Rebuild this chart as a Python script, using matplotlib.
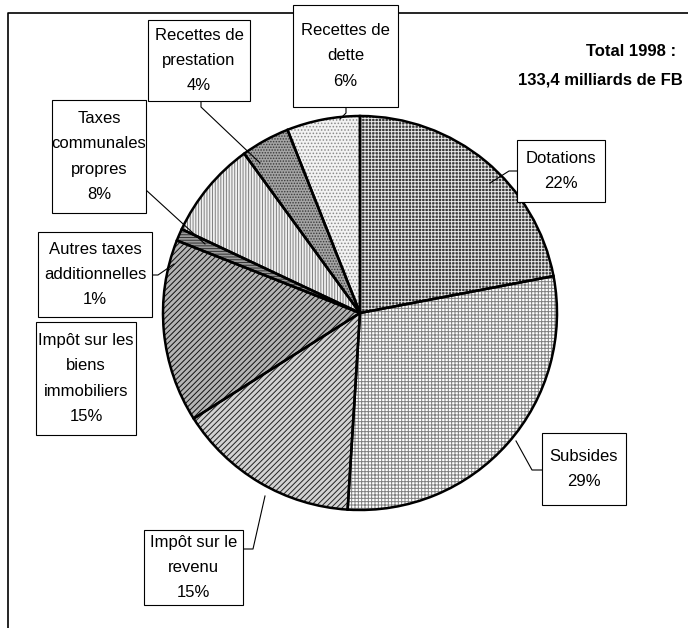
import matplotlib.pyplot as plt
from matplotlib.patches import Rectangle

plt.rcParams['font.family'] = ['Liberation Sans', 'DejaVu Sans']
plt.rcParams['hatch.linewidth'] = 0.7

labels = [
    'Dotations',
    'Subsides',
    'Impôt sur le\nrevenu',
    'Impôt sur les\nbiens\nimmobiliers',
    'Autres taxes\nadditionnelles',
    'Taxes\ncommunales\npropres',
    'Recettes de\nprestation',
    'Recettes de\ndette',
]
values = [22, 29, 15, 15, 1, 8, 4, 6]

title_lines = ['Total 1998 :', '133,4 milliards de FB']

# fill, hatch, hatch colour per slice
faces = ['#383838', 'white', '#d2d2d2', '#b4b4b4', '#9a9a9a', '#f0f0f0', '#a4a4a4', '#f2f2f2']
hatches = ['+' * 5, '+' * 5, '/' * 6, '/' * 6, '-' * 6, '|' * 6, '.' * 6, '.' * 5]
hcolors = ['#e8e8e8', '#808080', '#222222', '#111111', '#333333', '#808080', '#3a3a3a', '#8a8a8a']

# label boxes (x0, y0, x1, y1 in pixels from top-left) and leader polylines
boxes = [
    (517, 140, 605, 202),
    (542, 433, 626, 505),
    (144, 530, 243, 605),
    (36, 322, 136, 435),
    (38, 232, 152, 317),
    (52, 100, 146, 213),
    (148, 20, 250, 101),
    (293, 5, 398, 107),
]
leaders = [
    [(517, 171), (509, 171), (490, 183)],
    [(542, 470), (532, 470), (516, 441)],
    [(243, 549), (253, 549), (265, 496)],
    None,
    [(152, 275), (158, 275), (174, 264)],
    [(146, 190), (205, 244)],
    [(201, 101), (201, 107), (260, 163)],
    [(346, 107), (346, 113), (340, 119)],
]

W, H = 688, 628
cx, cy, r = 360, 313, 197

fig = plt.figure(figsize=(W / 100, H / 100), dpi=100)
ax = fig.add_axes([0, 0, 1, 1])

def Y(y):
    return H - y

wedges, _ = ax.pie(values, colors=faces, startangle=90, counterclock=False,
                   center=(cx, Y(cy)), radius=r, wedgeprops=dict(linewidth=0))
for w, h, hc in zip(wedges, hatches, hcolors):
    w.set_hatch(h)
    w.set_edgecolor(hc)

# outlines on top
ax.pie(values, startangle=90, counterclock=False, center=(cx, Y(cy)), radius=r,
       wedgeprops=dict(fill=False, edgecolor='black', linewidth=1.8))

# outer frame
ax.plot([8, 8, W + 5], [Y(H + 5), Y(13), Y(13)], color='black', lw=1.2, clip_on=False)

for lab, v, b, ld in zip(labels, values, boxes, leaders):
    x0, y0, x1, y1 = b
    ax.add_patch(Rectangle((x0, Y(y1)), x1 - x0, y1 - y0, fc='white', ec='black', lw=0.8, zorder=3))
    ax.text((x0 + x1) / 2, Y((y0 + y1) / 2), f'{lab}\n{v}%', ha='center', va='center',
            fontsize=12, linespacing=1.85, zorder=4)
    if ld:
        ax.plot([p[0] for p in ld], [Y(p[1]) for p in ld], color='black', lw=0.8, zorder=2)

ax.text(676, Y(52), title_lines[0], ha='right', va='center', fontsize=12, fontweight='bold')
ax.text(683, Y(80), title_lines[1], ha='right', va='center', fontsize=12, fontweight='bold')

ax.set_xlim(0, W)
ax.set_ylim(0, H)
ax.set_aspect('auto')
ax.axis('off')

fig.savefig('out.png', dpi=100, facecolor='white')
